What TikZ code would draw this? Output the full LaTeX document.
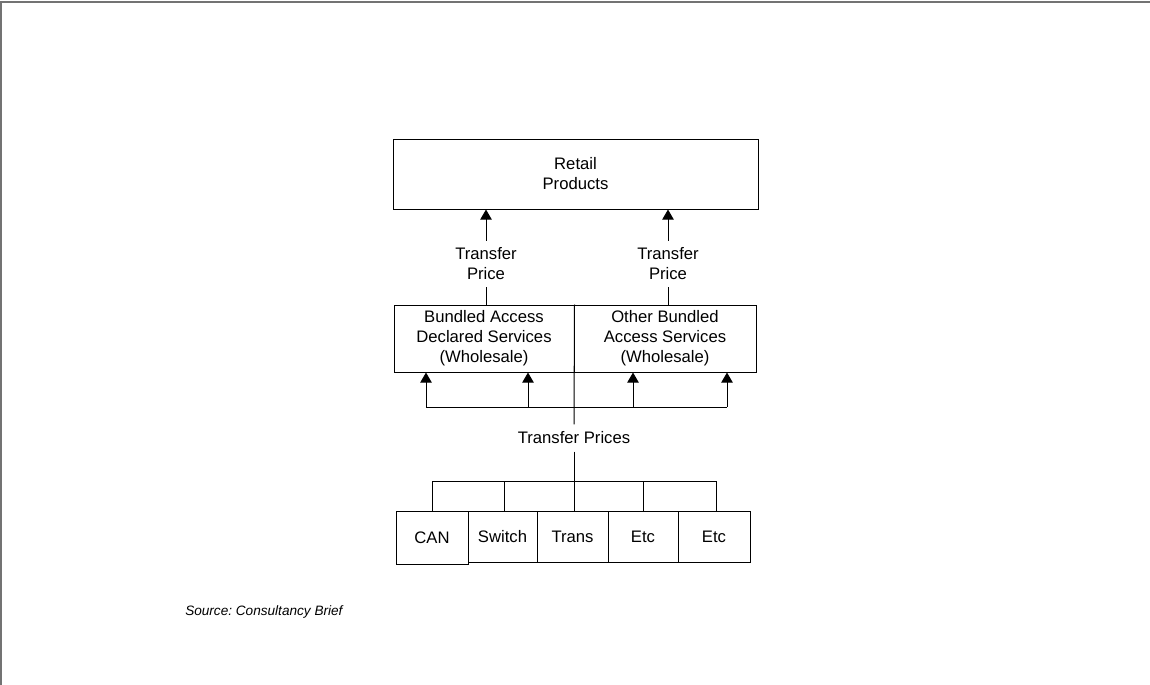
\documentclass[tikz,border=0pt]{standalone}
\usepackage{fontspec}
\setmainfont{Liberation Sans}
\usetikzlibrary{arrows.meta}
\frenchspacing
\begin{document}
\begin{tikzpicture}[x=0.75pt,y=-0.75pt,
  every node/.style={font=\fontsize{12.5pt}{15pt}\selectfont},
  box/.style={draw=black,line width=0.75pt,rectangle,inner sep=0pt,align=center},
  lbl/.style={inner sep=0pt,align=center},
  conn/.style={draw=black,line width=0.75pt},
  arr/.style={conn,-{Triangle[length=7.5pt,width=8.5pt]}},
  frameline/.style={draw=black!55,line width=1.5pt}]
\useasboundingbox (0,0) rectangle (1150,685);
% page frame (top and left edges only)
\coordinate (f1) at (1,685);
\coordinate (f2) at (1,2.5);
\coordinate (f3) at (1150,2.5);
\draw[frameline] (f1) -- (f2) -- (f3);

% top box
\node[box,minimum width=273.75pt,minimum height=52.5pt] (retail) at (575.5,174) {Retail\\Products};

% middle boxes
\node[box,minimum width=135pt,minimum height=50.25pt] (midL) at (484,338.5) {Bundled Access\\Declared Services\\(Wholesale)};
\node[box,minimum width=136.5pt,minimum height=50.25pt] (midR) at (665,338.5) {Other Bundled\\Access Services\\(Wholesale)};

% transfer price labels
\node[lbl,minimum height=34.5pt] (tp1) at (486,264) {Transfer\\Price};
\node[lbl,minimum height=34.5pt] (tp2) at (668,264) {Transfer\\Price};
\draw[arr] (tp1.north) -- (tp1 |- retail.south);
\draw[arr] (tp2.north) -- (tp2 |- retail.south);
\draw[conn] (tp1 |- midL.north) -- (tp1.south);
\draw[conn] (tp2 |- midR.north) -- (tp2.south);

% transfer prices label
\node[lbl,minimum height=20pt] (tps) at (574,438) {Transfer Prices};
\draw[conn] (midL.north east) -- (tps.north);

% bus to middle boxes
\coordinate (b1) at (426,407);
\coordinate (b2) at (528,407);
\coordinate (b3) at (633,407);
\coordinate (b4) at (727,407);
\draw[conn] (b1) -- (b4);
\draw[arr] (b1) -- (b1 |- midL.south);
\draw[arr] (b2) -- (b2 |- midL.south);
\draw[arr] (b3) -- (b3 |- midR.south);
\draw[arr] (b4) -- (b4 |- midR.south);

% bottom boxes
\node[box,minimum width=54pt,minimum height=39.75pt] (can) at (432,537.5) {CAN};
\node[box,minimum width=51.75pt,minimum height=38.25pt] (switch) at (502.5,536.5) {Switch};
\node[box,minimum width=53.25pt,minimum height=38.25pt] (trans) at (572.5,536.5) {Trans};
\node[box,minimum width=52.5pt,minimum height=38.25pt] (etc1) at (643,536.5) {Etc};
\node[box,minimum width=54pt,minimum height=38.25pt] (etc2) at (714,536.5) {Etc};

% bottom bus
\coordinate (d1) at (432,481);
\coordinate (d2) at (504,481);
\coordinate (d3) at (574,481);
\coordinate (d4) at (643,481);
\coordinate (d5) at (716,481);
\draw[conn] (d1) -- (d5);
\draw[conn] (tps.south) -- (tps.south |- trans.north);
\draw[conn] (d1) -- (d1 |- can.north);
\draw[conn] (d2) -- (d2 |- switch.north);
\draw[conn] (d4) -- (d4 |- etc1.north);
\draw[conn] (d5) -- (d5 |- etc2.north);

% source
\node[lbl,anchor=west,font=\fontsize{10.2pt}{12pt}\selectfont\itshape] (src) at (185,612) {Source: Consultancy Brief};
\end{tikzpicture}
\end{document}
